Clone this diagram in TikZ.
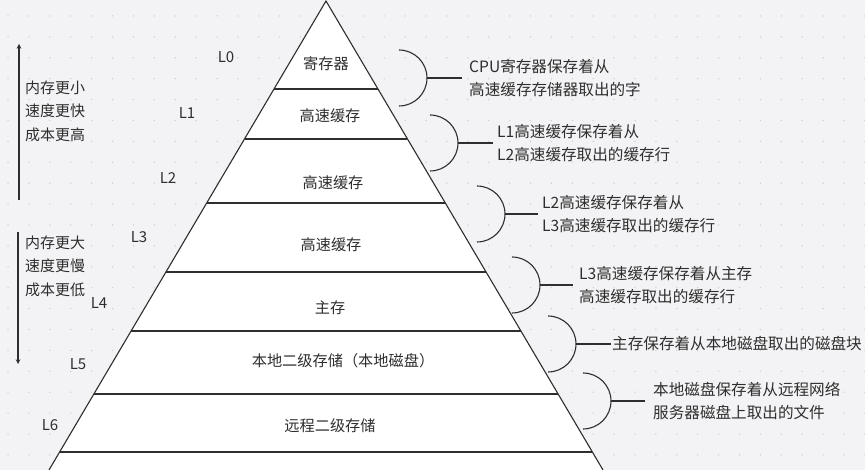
\documentclass[tikz,border=0pt]{standalone}
\usepackage{fontspec}
\setmainfont{Noto Sans CJK SC}
\definecolor{ink}{HTML}{2E2E2E}
\definecolor{paper}{HTML}{F3F3F5}
\definecolor{griddot}{HTML}{CDCDD2}
\tikzset{
  tier/.style={font=\fontsize{15.2}{18}\selectfont, text=ink, inner sep=0.75pt},
  lvl/.style={font=\fontsize{15}{18}\selectfont, text=ink, inner sep=0.75pt},
  note/.style={anchor=west, align=left, font=\fontsize{15.6}{23}\selectfont, text=ink, inner xsep=4pt, inner ysep=0pt},
  trend/.style={anchor=west, align=left, font=\fontsize{15}{23.5}\selectfont, text=ink, inner sep=0pt},
  brace/.style={draw=ink, line width=1.1},
}
\begin{document}
\begin{tikzpicture}[x=1pt,y=1pt,yscale=-1,xscale=1]
\useasboundingbox (0,0) rectangle (865,470);
%Background
\fill[paper] (0,0) rectangle (865,470);
\foreach \i in {0,...,41}
  \foreach \j in {0,...,21}
    \fill[griddot] ({8+20.9*\i},{16+20.9*\j}) circle (0.75);
%Shape: Triangle
\coordinate (apex) at (326,1);
\coordinate (bl) at (49,470);
\coordinate (br) at (603,470);
\fill[white] (bl) -- (apex) -- (br) -- cycle;
\draw[ink, line width=1.1] (bl) -- (apex) -- (br);
%Straight Lines (layer borders)
\foreach \y in {89,139,203,272,331,394,452}
  \draw[ink, line width=1.1] ({326-0.59*(\y-1)},\y) -- ({326+0.59*(\y-1)},\y);
% Text Node
\node[tier] (reg) at (326,64) {寄存器};
\node[tier] (c1) at (330,116) {高速缓存};
\node[tier] (c2) at (333,183) {高速缓存};
\node[tier] (c3) at (331,245) {高速缓存};
\node[tier] (mem) at (330,308) {主存};
\node[tier] (disk) at (343,361) {本地二级存储（本地磁盘）};
\node[tier] (remote) at (330,426) {远程二级存储};
% Text Node
\node[lvl] (l0) at (226,57) {L0};
\node[lvl] (l1) at (187,113) {L1};
\node[lvl] (l2) at (168,178) {L2};
\node[lvl] (l3) at (139,237) {L3};
\node[lvl] (l4) at (99,303) {L4};
\node[lvl] (l5) at (78,364) {L5};
\node[lvl] (l6) at (50,425) {L6};
%Straight Lines (trend arrows)
\coordinate (upbot) at (19,200);
\coordinate (uptop) at (19,44);
\draw[ink, line width=1.1, -stealth] (upbot) -- (uptop);
\coordinate (dntop) at (18,232);
\coordinate (dnbot) at (18,364);
\draw[ink, line width=1.1, -stealth] (dntop) -- (dnbot);
% Text Node
\node[trend] (fast) at (25,111) {内存更小\\速度更快\\成本更高};
\node[trend] (slow) at (25,266) {内存更大\\速度更慢\\成本更低};
%Curve Lines (braces) and Text Node
\coordinate (b0) at (399,78);
\node[note, inner xsep=7pt] (n0) at (462,78) {CPU寄存器保存着从\\高速缓存存储器取出的字};
\draw[brace] (b0) ++(0,-28) arc[start angle=-90, end angle=90, radius=28];
\draw[brace] (b0) ++(28,0) -- (n0.west);
\coordinate (b1) at (430,143);
\node[note] (n1) at (493,143) {L1高速缓存保存着从\\L2高速缓存取出的缓存行};
\draw[brace] (b1) ++(0,-28) arc[start angle=-90, end angle=90, radius=28];
\draw[brace] (b1) ++(28,0) -- (n1.west);
\coordinate (b2) at (477,214);
\node[note] (n2) at (538,214) {L2高速缓存保存着从\\L3高速缓存取出的缓存行};
\draw[brace] (b2) ++(0,-28) arc[start angle=-90, end angle=90, radius=28];
\draw[brace] (b2) ++(28,0) -- (n2.west);
\coordinate (b3) at (512,285);
\node[note, inner xsep=6pt] (n3) at (573,285) {L3高速缓存保存着从主存\\高速缓存取出的缓存行};
\draw[brace] (b3) ++(0,-28) arc[start angle=-90, end angle=90, radius=28];
\draw[brace] (b3) ++(28,0) -- (n3.west);
\coordinate (b4) at (548,344);
\node[note, inner xsep=1pt] (n4) at (611,344) {主存保存着从本地磁盘取出的磁盘块};
\draw[brace] (b4) ++(0,-28) arc[start angle=-90, end angle=90, radius=28];
\draw[brace] (b4) ++(28,0) -- (n4.west);
\coordinate (b5) at (583,401);
\node[note, inner xsep=8pt] (n5) at (645,401) {本地磁盘保存着从远程网络\\服务器磁盘上取出的文件};
\draw[brace] (b5) ++(0,-28) arc[start angle=-90, end angle=90, radius=28];
\draw[brace] (b5) ++(28,0) -- (n5.west);
\end{tikzpicture}
\end{document}
